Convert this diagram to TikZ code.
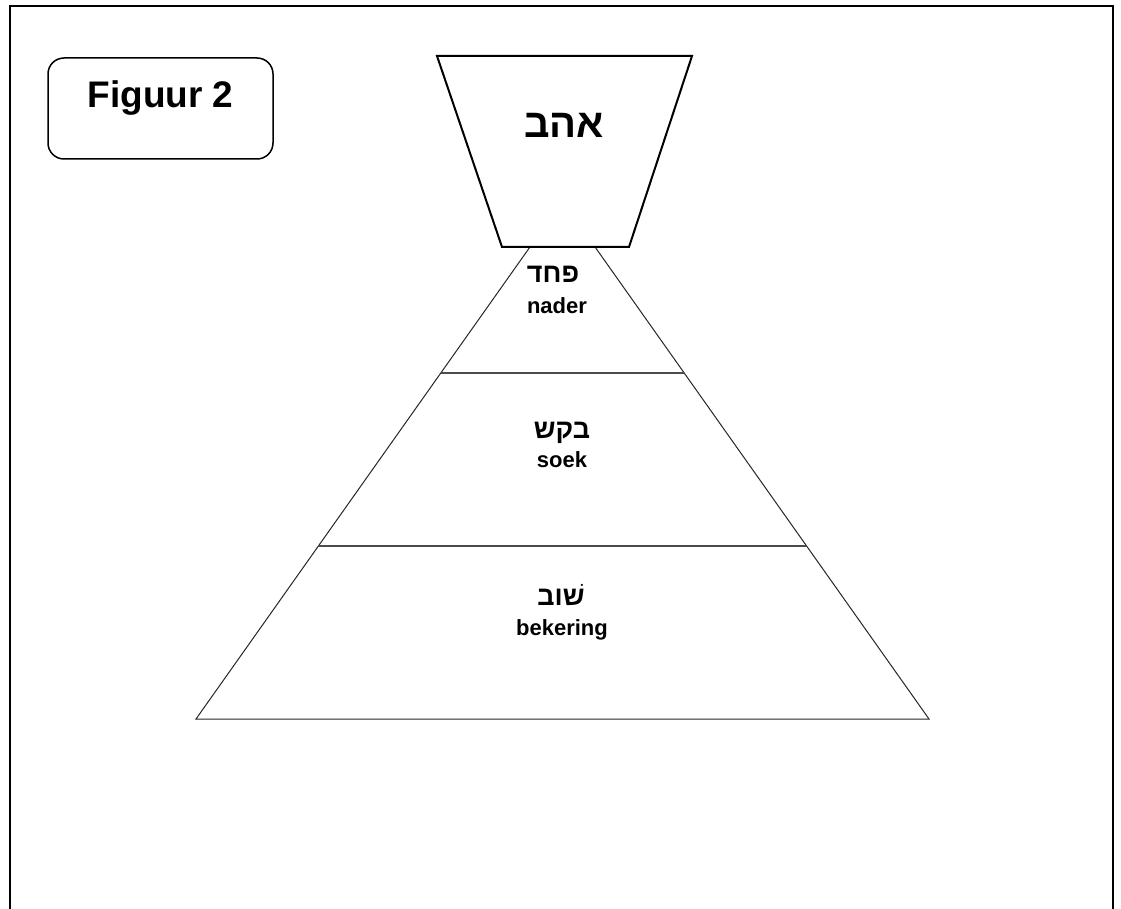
\documentclass[tikz,border=0pt]{standalone}
\usepackage{fontspec}
\setmainfont{Liberation Sans}
\newfontfamily\hebfont[Script=Hebrew]{Liberation Sans}
\TeXXeTstate=1
\usetikzlibrary{calc}
\tikzset{
  lbl/.style={anchor=base, inner sep=0pt, font=\fontsize{22}{26}\selectfont\bfseries},
  heb/.style={anchor=base, inner sep=0pt, font=\fontsize{27}{32}\selectfont\hebfont\bfseries},
  thin/.style={line width=1pt, black!85},
  layer/.style={line width=1.4pt, black!70},
}
\begin{document}
\begin{tikzpicture}[x=1pt,y=-1pt]
\useasboundingbox (0,0) rectangle (1121,909);
% outer frame (open at bottom)
\draw[line width=2.5pt] (10,909) -- (10,6) -- (1113,6) -- (1113,909);
% title box
\draw[line width=1.5pt, rounded corners=16pt] (48,58) rectangle (273,159);
\node[anchor=base, inner sep=0pt, font=\fontsize{37}{44}\selectfont\bfseries] (title) at (160.5,108) {Figuur 2};
% pyramid
\coordinate (apex) at (562.5,201);
\coordinate (bl) at (196,719);
\coordinate (br) at (929,719);
\draw[thin] (apex) -- (bl) -- (br) -- cycle;
\coordinate (l1) at ($(apex)!0.332!(bl)$);
\coordinate (r1) at ($(apex)!0.332!(br)$);
\coordinate (l2) at ($(apex)!0.666!(bl)$);
\coordinate (r2) at ($(apex)!0.666!(br)$);
\draw[layer] (l1) -- (r1);
\draw[layer] (l2) -- (r2);
% cup (trapezoid)
\coordinate (tl) at (437,56);
\coordinate (tr) at (692,56);
\coordinate (btr) at (629,247);
\coordinate (btl) at (502,247);
\draw[line width=2pt, fill=white] (tl) -- (tr) -- (btr) -- (btl) -- cycle;
% texts
\node[heb, font=\fontsize{40}{48}\selectfont\hebfont\bfseries] (ahav) at (564,138) {\beginR אהב\endR};
\node[heb] (pachad) at (553,283) {\beginR פחד\endR};
\node[lbl] (nader) at (557,313) {nader};
\node[heb] (baqash) at (562,438) {\beginR בקש\endR};
\node[lbl] (soek) at (562,467) {soek};
\node[heb] (shuv) at (561,605) {\beginR שׁוב\endR};
\node[lbl] (bekering) at (562,635) {bekering};
\end{tikzpicture}
\end{document}
